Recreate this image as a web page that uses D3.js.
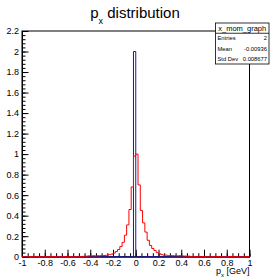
<!DOCTYPE html>
<html>
<head>
<meta charset="utf-8">
<script src="https://cdn.jsdelivr.net/npm/d3@7"></script>
<style>
  body { margin: 0; background: #fff; }
  svg { font-family: "Liberation Sans", Helvetica, Arial, sans-serif; }
</style>
</head>
<body>
<svg id="chart" width="270" height="278"></svg>
<script>
// bin edges: 100 bins of 0.02 from -1 to 1
var binLow = -1;
var binWidth = 0.02;

// red histogram (bins 27..73 non-zero)
var redValues = [
  0, 0, 0, 0, 0, 0, 0, 0, 0, 0,
  0, 0, 0, 0, 0, 0, 0, 0, 0, 0,
  0, 0, 0, 0, 0, 0, 0, 0.005, 0.005, 0.008,
  0.008, 0.01, 0.008, 0.01, 0.01, 0.012, 0.012, 0.015, 0.02, 0.025,
  0.035, 0.05, 0.07, 0.10, 0.14, 0.21, 0.31, 0.46, 0.68, 0.98,
  1.0, 0.70, 0.45, 0.33, 0.24, 0.16, 0.11, 0.08, 0.06, 0.04,
  0.03, 0.02, 0.015, 0.015, 0.01, 0.012, 0.01, 0.01, 0.008, 0.01,
  0.008, 0.006, 0.006, 0.005, 0, 0, 0, 0, 0, 0,
  0, 0, 0, 0, 0, 0, 0, 0, 0, 0,
  0, 0, 0, 0, 0, 0, 0, 0, 0, 0
];

// blue histogram: two entries in bin [-0.02, 0]
var blueValues = d3.range(100).map(i => i === 49 ? 2 : 0);

var xTicks = [-1, -0.8, -0.6, -0.4, -0.2, 0, 0.2, 0.4, 0.6, 0.8, 1];
var yTicks = [0, 0.2, 0.4, 0.6, 0.8, 1, 1.2, 1.4, 1.6, 1.8, 2, 2.2];

var statNames = ['Entries', 'Mean', 'Std Dev'];
var statValues = ['2', '-0.00936', '0.008677'];

var frameL = 22, frameR = 249.5, frameT = 31, frameB = 256.7;

var svg = d3.select('#chart');

var xScale = d3.scaleLinear().domain([-1, 1]).range([frameL, frameR]);
var yScale = d3.scaleLinear().domain([0, 2.2]).range([frameB, frameT]);

// frame
svg.append('rect')
  .attr('x', frameL).attr('y', frameT)
  .attr('width', frameR - frameL).attr('height', frameB - frameT)
  .attr('fill', 'none').attr('stroke', '#000').attr('stroke-width', 1);

// minor ticks
var xMinor = d3.range(-1, 1.0001, 0.05).map(d => +d.toFixed(2));
var yMinor = d3.range(0, 2.2001, 0.04).map(d => +d.toFixed(2));

svg.append('g')
  .attr('transform', 'translate(0,' + frameB + ')')
  .call(d3.axisBottom(xScale).tickValues(xMinor).tickSize(-3.5).tickFormat(''))
  .call(g => g.select('.domain').remove());

svg.append('g')
  .attr('transform', 'translate(' + frameL + ',0)')
  .call(d3.axisLeft(yScale).tickValues(yMinor).tickSize(-3.5).tickFormat(''))
  .call(g => g.select('.domain').remove());

// major axes
var xAxis = svg.append('g')
  .attr('transform', 'translate(0,' + frameB + ')')
  .call(d3.axisBottom(xScale).tickValues(xTicks).tickSize(-7).tickSizeOuter(0)
    .tickPadding(3).tickFormat(d => String(d)));

var yAxis = svg.append('g')
  .attr('transform', 'translate(' + frameL + ',0)')
  .call(d3.axisLeft(yScale).tickValues(yTicks).tickSize(-6.5).tickSizeOuter(0)
    .tickPadding(3).tickFormat(d => String(d)));

[xAxis, yAxis].forEach(function (g) {
  g.selectAll('text')
    .style('font-family', '"Liberation Sans", Helvetica, Arial, sans-serif')
    .style('font-size', '9px')
    .attr('fill', '#000');
  g.selectAll('line').attr('stroke', '#000');
  g.select('.domain').attr('stroke', '#000');
});

// step path for a histogram
function stepPath(values) {
  var pts = [[xScale(binLow), yScale(0)]];
  values.forEach(function (v, i) {
    var x0 = xScale(binLow + i * binWidth);
    var x1 = xScale(binLow + (i + 1) * binWidth);
    pts.push([x0, yScale(v)]);
    pts.push([x1, yScale(v)]);
  });
  pts.push([xScale(binLow + values.length * binWidth), yScale(0)]);
  return d3.line()(pts);
}

svg.append('path')
  .attr('d', stepPath(blueValues))
  .attr('fill', 'none')
  .attr('stroke', '#1a1a9a')
  .attr('stroke-width', 1);

svg.append('path')
  .attr('d', stepPath(redValues))
  .attr('fill', 'none')
  .attr('stroke', '#ff0000')
  .attr('stroke-width', 1);

// title
var title = svg.append('text')
  .attr('x', 135)
  .attr('y', 17.5)
  .attr('text-anchor', 'middle')
  .style('font-size', '15px')
  .attr('fill', '#000');
title.append('tspan').text('p');
title.append('tspan').attr('dy', 6).style('font-size', '9px').text('x');
title.append('tspan').attr('dy', -6).text(' distribution');

// x axis title
var xTitle = svg.append('text')
  .attr('x', frameR)
  .attr('y', 274)
  .attr('text-anchor', 'end')
  .style('font-size', '9px')
  .attr('fill', '#000');
xTitle.append('tspan').text('p');
xTitle.append('tspan').attr('dy', 2.5).style('font-size', '6px').text('x');
xTitle.append('tspan').attr('dy', -2.5).text(' [GeV]');

// stats box
var sx0 = 215.5, sx1 = 269, sy0 = 23, sy1 = 64;
svg.append('rect')
  .attr('x', sx0).attr('y', sy0)
  .attr('width', sx1 - sx0).attr('height', sy1 - sy0)
  .attr('fill', '#fff').attr('stroke', '#000').attr('stroke-width', 0.8);

var rowH = (sy1 - sy0) / 4;
svg.append('line')
  .attr('x1', sx0).attr('x2', sx1)
  .attr('y1', sy0 + rowH).attr('y2', sy0 + rowH)
  .attr('stroke', '#000').attr('stroke-width', 0.8);

svg.append('text')
  .attr('x', (sx0 + sx1) / 2)
  .attr('y', sy0 + rowH / 2 + 2.7)
  .attr('text-anchor', 'middle')
  .style('font-size', '7.5px')
  .text('x_mom_graph');

statNames.forEach(function (name, i) {
  var cy = sy0 + rowH * (i + 1.5) + 2.1;
  svg.append('text')
    .attr('x', sx0 + 2).attr('y', cy)
    .style('font-size', '5.8px')
    .text(name);
  svg.append('text')
    .attr('x', sx1 - 2).attr('y', cy)
    .attr('text-anchor', 'end')
    .style('font-size', '5.8px')
    .text(statValues[i]);
});
</script>
</body>
</html>
